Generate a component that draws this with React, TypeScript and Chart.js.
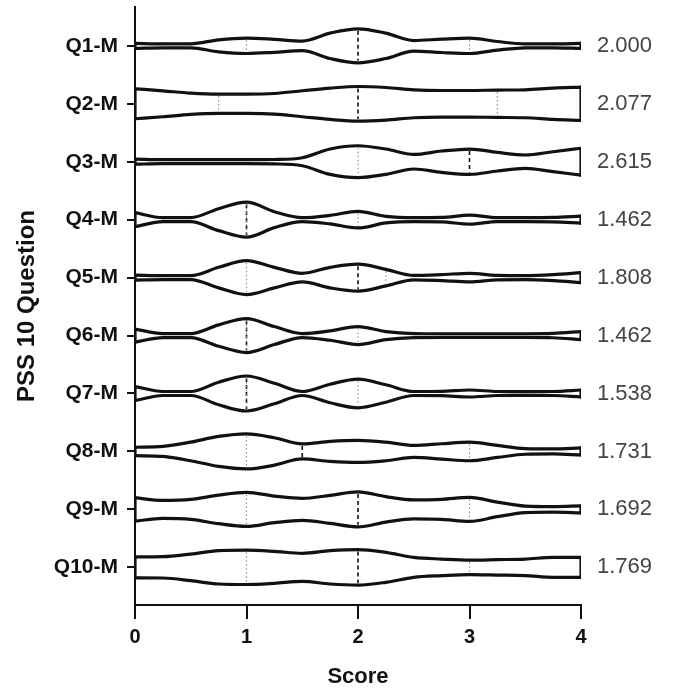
import React, { useEffect, useRef } from 'react';
import { Chart, registerables } from 'chart.js';

Chart.register(...registerables);

const QUESTIONS = ['Q1-M', 'Q2-M', 'Q3-M', 'Q4-M', 'Q5-M', 'Q6-M', 'Q7-M', 'Q8-M', 'Q9-M', 'Q10-M'];
const MEANS = [2.0, 2.077, 2.615, 1.462, 1.808, 1.462, 1.538, 1.731, 1.692, 1.769];
const MEDIANS = [2, 2, 3, 1, 2, 1, 1, 1.5, 2, 2];
const QUARTILE_1 = [1, 0.75, 2, 1, 1, 1, 1, 1, 1, 1];
const QUARTILE_3 = [3, 3.25, 4, 2, 2.25, 2, 2, 3, 3, 3];
const X_TICKS = [0, 1, 2, 3, 4];

// kernel-density half-widths sampled at these scores
const SCORE_GRID = [0, 0.25, 0.5, 0.75, 1, 1.25, 1.5, 1.75, 2, 2.25, 2.5, 2.75, 3, 3.25, 3.5, 3.75, 4];
const DENSITY_Q1 = [2.5, 2, 2, 6, 7.7, 6.5, 4.8, 12.7, 17, 12.7, 5.3, 6.7, 7.7, 4.3, 2, 2, 2.5];
const DENSITY_Q2 = [15, 13, 10.7, 9.7, 9.7, 10.3, 13, 15.7, 17.3, 16.3, 14, 13.3, 13.3, 13.7, 14, 15.7, 16.7];
const DENSITY_Q3 = [2.5, 2, 2, 2, 2, 2.2, 4, 12.7, 16, 12.7, 7.3, 10.7, 12.7, 9.3, 6.7, 10, 13.5];
const DENSITY_Q4 = [7, 2, 2, 11, 17.5, 8, 2, 4.3, 8.3, 3.3, 2, 2.2, 4.5, 2, 2, 2.2, 3.5];
const DENSITY_Q5 = [2.5, 2, 2, 10.3, 17, 10.3, 4.3, 10.3, 13.5, 8.3, 2.2, 3, 4.3, 2.2, 2, 3, 5];
const DENSITY_Q6 = [6.5, 2, 2, 10.7, 17, 9, 2, 4.7, 9, 4, 2, 1.8, 1.8, 1.8, 1.8, 2.2, 4];
const DENSITY_Q7 = [7, 2, 2, 11.3, 17.5, 10.3, 2, 9.3, 14.3, 8.7, 2, 2.2, 3.5, 2, 1.8, 2, 3.5];
const DENSITY_Q8 = [4.2, 5, 9.3, 15, 17.5, 13.7, 7.5, 10, 11, 9.3, 6, 7.7, 9.3, 6, 2.8, 2.5, 3.5];
const DENSITY_Q9 = [11.7, 9, 10, 14.3, 17, 13.3, 11, 14, 17.5, 12.7, 9.5, 10, 12, 7.3, 3.3, 2.8, 3.5];
const DENSITY_Q10 = [10.5, 10.7, 13.3, 16.7, 17.2, 16, 14, 16.7, 17.8, 15, 10, 8.3, 7.2, 7.7, 8.3, 10, 10];
const DENSITIES = [DENSITY_Q1, DENSITY_Q2, DENSITY_Q3, DENSITY_Q4, DENSITY_Q5, DENSITY_Q6, DENSITY_Q7, DENSITY_Q8, DENSITY_Q9, DENSITY_Q10];

const DENSITY_SCALE = 1 / 58; // density units -> row units
const INK = '#111';

function densityAt(d: number[], v: number) {
  let k = 0;
  let best = Infinity;
  SCORE_GRID.forEach((s, i) => {
    const diff = Math.abs(s - v);
    if (diff < best) { best = diff; k = i; }
  });
  return d[k];
}

function buildDatasets() {
  const sets: any[] = [];
  const base = {
    type: 'line',
    borderColor: INK,
    borderWidth: 3.2,
    pointRadius: 0,
    pointHoverRadius: 0,
    fill: false,
    borderCapStyle: 'round',
    borderJoinStyle: 'round',
  };
  DENSITIES.forEach((d, r) => {
    const row = r + 1;
    const inner = (v: number, dashed: boolean) => {
      const w = Math.max(densityAt(d, v) * DENSITY_SCALE - 0.035, 0);
      sets.push({
        ...base,
        order: 5,
        borderColor: dashed ? INK : '#8a8a8a',
        borderWidth: dashed ? 1.6 : 1.1,
        borderDash: dashed ? [4, 3] : [1.5, 2.5],
        borderCapStyle: 'butt',
        tension: 0,
        data: [{ x: v, y: row - w }, { x: v, y: row + w }],
      });
    };
    inner(QUARTILE_1[r], false);
    inner(QUARTILE_3[r], false);
    inner(MEDIANS[r], true);
    sets.push({
      ...base,
      order: 1,
      cubicInterpolationMode: 'monotone',
      data: SCORE_GRID.map((x, k) => ({ x, y: row - d[k] * DENSITY_SCALE })),
    });
    sets.push({
      ...base,
      order: 1,
      cubicInterpolationMode: 'monotone',
      data: SCORE_GRID.map((x, k) => ({ x, y: row + d[k] * DENSITY_SCALE })),
    });
    const first = d[0] * DENSITY_SCALE;
    const last = d[d.length - 1] * DENSITY_SCALE;
    const x0 = SCORE_GRID[0];
    const x1 = SCORE_GRID[SCORE_GRID.length - 1];
    sets.push({ ...base, order: 1, tension: 0, data: [{ x: x0, y: row - first }, { x: x0, y: row + first }] });
    sets.push({ ...base, order: 1, tension: 0, data: [{ x: x1, y: row - last }, { x: x1, y: row + last }] });
  });
  return sets;
}

const meanLabels = {
  id: 'meanLabels',
  afterDatasetsDraw(chart: any) {
    const { ctx, chartArea, scales } = chart;
    ctx.save();
    ctx.font = '22px "Liberation Sans", Arial, sans-serif';
    ctx.fillStyle = '#444';
    ctx.textAlign = 'left';
    ctx.textBaseline = 'middle';
    MEANS.forEach((m, i) => {
      const y = scales.y.getPixelForValue(i + 1);
      ctx.fillText(m.toFixed(3), chartArea.right + 16, y);
    });
    ctx.restore();
  },
};

export default function App() {
  const ref = useRef<HTMLCanvasElement>(null);
  useEffect(() => {
    if (!ref.current) return;
    Chart.defaults.font.family = '"Liberation Sans", Arial, sans-serif';
    const chart = new Chart(ref.current, {
      type: 'line',
      data: { datasets: buildDatasets() },
      options: {
        animation: false,
        responsive: false,
        devicePixelRatio: 1,
        layout: { padding: { top: 7, right: 92, left: 0, bottom: 0 } },
        plugins: { legend: { display: false }, tooltip: { enabled: false } },
        events: [],
        scales: {
          x: {
            type: 'linear',
            position: 'bottom',
            min: 0,
            max: 4,
            afterBuildTicks: (s: any) => { s.ticks = X_TICKS.map((v) => ({ value: v })); },
            afterFit: (s: any) => { s.height = 89; s.paddingLeft = 0; s.paddingRight = 0; },
            ticks: { font: { size: 20, weight: 'bold' }, color: INK, padding: 6, maxRotation: 0, autoSkip: false },
            grid: { drawOnChartArea: false, drawTicks: true, tickLength: 14, color: INK, lineWidth: 2 },
            border: { display: true, color: INK, width: 2 },
            title: { display: true, text: 'Score', color: INK, font: { size: 22, weight: 'bold' }, padding: { top: 0, bottom: 4 } },
          },
          y: {
            type: 'linear',
            reverse: true,
            min: 0.33,
            max: 10.65,
            afterBuildTicks: (s: any) => { s.ticks = QUESTIONS.map((_, i) => ({ value: i + 1 })); },
            afterFit: (s: any) => { s.width = 135; s.paddingTop = 0; s.paddingBottom = 0; },
            ticks: {
              autoSkip: false,
              callback: (v: any) => QUESTIONS[Math.round(v) - 1] ?? '',
              font: { size: 21, weight: 'bold' },
              color: INK,
              padding: 9,
            },
            grid: { drawOnChartArea: false, drawTicks: true, tickLength: 8, color: INK, lineWidth: 2 },
            border: { display: true, color: INK, width: 2 },
            title: { display: true, text: 'PSS 10 Question', color: INK, font: { size: 24, weight: 'bold' }, padding: { top: 13, bottom: 0 } },
          },
        },
      },
      plugins: [meanLabels],
    } as any);
    return () => chart.destroy();
  }, []);
  return (
    <div style={{ position: 'absolute', left: 0, top: 0, width: 673, height: 694, background: '#fff' }}>
      <canvas ref={ref} width={673} height={694} style={{ display: 'block', width: 673, height: 694 }} />
    </div>
  );
}
